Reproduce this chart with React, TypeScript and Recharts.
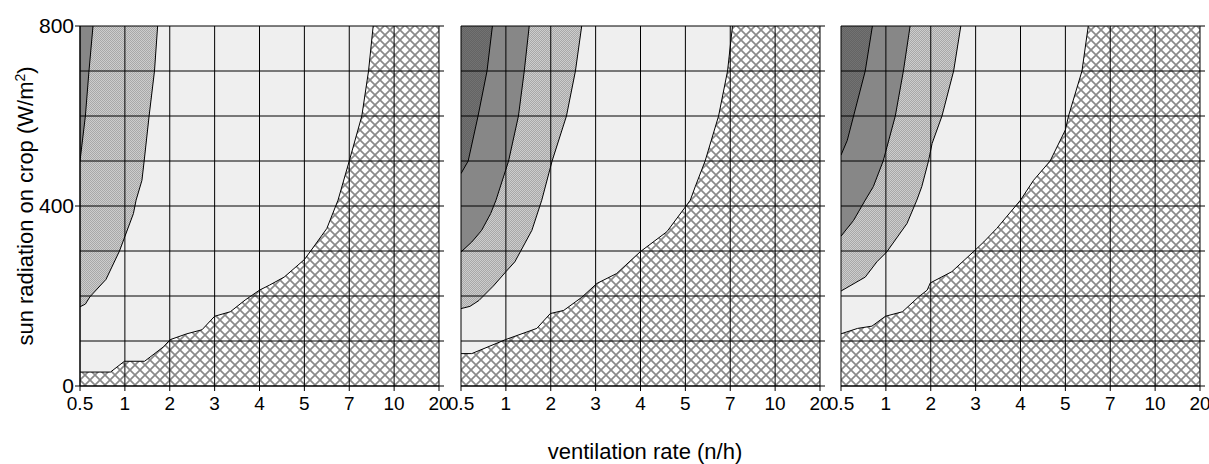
import React from 'react';
import { AreaChart, Area, XAxis, YAxis, CartesianGrid } from 'recharts';

// ventilation rate categories (n/h), evenly spaced on the axis
const rateTicks = [0.5, 1, 2, 3, 4, 5, 7, 10, 20];
const rateTickLabels = ['0.5', '1', '2', '3', '4', '5', '7', '10', '20'];
const radiationTicks = [0, 400, 800];
const radiationGrid = [0, 100, 200, 300, 400, 500, 600, 700, 800];

// Panel 1 boundaries: radiation (W/m2) vs ventilation rate (n/h)
const p1MediumRad = [500, 600, 700, 800];
const p1MediumRate = [0.5, 0.56, 0.6, 0.645];
const p1DottedRad = [176, 182, 198, 237, 300, 383, 413, 457, 500, 600, 700, 800];
const p1DottedRate = [0.5, 0.56, 0.61, 0.79, 0.94, 1.19, 1.25, 1.38, 1.43, 1.54, 1.66, 1.73];
const p1LightRad = [31, 31, 55, 55, 87, 103, 116, 125, 155, 165, 191, 213, 224, 242, 281, 300, 350, 413, 500, 600, 700, 800];
const p1LightRate = [0.5, 0.84, 0.995, 1.44, 1.86, 2.01, 2.38, 2.72, 3.0, 3.35, 3.68, 4.0, 4.22, 4.55, 5.0, 5.28, 6.0, 6.5, 7.0, 7.84, 8.29, 8.6];

// Panel 2 boundaries
const p2DarkRad = [472, 500, 600, 700, 800];
const p2DarkRate = [0.5, 0.58, 0.69, 0.79, 0.85];
const p2MediumRad = [298, 320, 346, 383, 413, 500, 600, 700, 800];
const p2MediumRate = [0.5, 0.62, 0.73, 0.83, 0.89, 1.06, 1.28, 1.41, 1.52];
const p2DottedRad = [172, 177, 190, 222, 254, 276, 298, 346, 413, 500, 600, 700, 800];
const p2DottedRate = [0.5, 0.6, 0.7, 0.86, 1.0, 1.2, 1.32, 1.58, 1.8, 2.03, 2.35, 2.55, 2.69];
const p2LightRad = [72, 72, 103, 128, 161, 168, 197, 228, 250, 298, 343, 398, 413, 443, 500, 600, 700, 800];
const p2LightRate = [0.5, 0.62, 0.995, 1.69, 1.99, 2.29, 2.69, 3.03, 3.47, 3.99, 4.59, 5.0, 5.22, 5.44, 5.88, 6.48, 6.88, 7.15];

// Panel 3 boundaries
const p3DarkRad = [513, 546, 600, 700, 800];
const p3DarkRate = [0.5, 0.57, 0.64, 0.77, 0.85];
const p3MediumRad = [333, 368, 413, 443, 500, 600, 700, 800];
const p3MediumRate = [0.5, 0.64, 0.77, 0.86, 0.97, 1.21, 1.39, 1.54];
const p3DottedRad = [211, 242, 276, 298, 361, 413, 443, 500, 539, 600, 700, 800];
const p3DottedRate = [0.5, 0.77, 0.9, 1.02, 1.47, 1.69, 1.8, 1.95, 2.03, 2.25, 2.51, 2.67];
const p3LightRad = [116, 128, 133, 155, 165, 198, 213, 229, 254, 302, 320, 350, 413, 457, 500, 569, 600, 700, 800];
const p3LightRate = [0.5, 0.685, 0.845, 0.995, 1.37, 1.73, 1.92, 1.99, 2.47, 2.99, 3.18, 3.47, 4.0, 4.29, 4.66, 5.0, 5.14, 5.74, 6.02];

// map a ventilation rate onto the evenly spaced category axis
function rateToPos(v: number): number {
  for (let i = 0; i < rateTicks.length - 1; i++) {
    const a = rateTicks[i];
    const b = rateTicks[i + 1];
    if (v <= b) return i + (v - a) / (b - a);
  }
  return rateTicks.length - 1;
}

function toData(rad: number[], rate: number[]) {
  return rad.map((r, i) => ({ rad: r, pos: rateToPos(rate[i]) }));
}

const tickPositions = rateTicks.map(rateToPos);

type Bound = { rad: number[]; rate: number[]; kind: 'light' | 'dotted' | 'medium' | 'dark' };

const panels: { left: number; showLeft: boolean; bounds: Bound[] }[] = [
  {
    left: 80,
    showLeft: true,
    bounds: [
      { rad: p1LightRad, rate: p1LightRate, kind: 'light' },
      { rad: p1DottedRad, rate: p1DottedRate, kind: 'dotted' },
      { rad: p1MediumRad, rate: p1MediumRate, kind: 'medium' },
    ],
  },
  {
    left: 461,
    showLeft: false,
    bounds: [
      { rad: p2LightRad, rate: p2LightRate, kind: 'light' },
      { rad: p2DottedRad, rate: p2DottedRate, kind: 'dotted' },
      { rad: p2MediumRad, rate: p2MediumRate, kind: 'medium' },
      { rad: p2DarkRad, rate: p2DarkRate, kind: 'dark' },
    ],
  },
  {
    left: 841,
    showLeft: false,
    bounds: [
      { rad: p3LightRad, rate: p3LightRate, kind: 'light' },
      { rad: p3DottedRad, rate: p3DottedRate, kind: 'dotted' },
      { rad: p3MediumRad, rate: p3MediumRate, kind: 'medium' },
      { rad: p3DarkRad, rate: p3DarkRate, kind: 'dark' },
    ],
  },
];

const PLOT_W = 359;

function Panel({ left, showLeft, bounds, id }: { left: number; showLeft: boolean; bounds: Bound[]; id: number }) {
  const padL = showLeft ? 80 : 30;
  const width = padL + PLOT_W + 6 + 14;
  const fills: Record<string, string> = {
    light: '#efefef',
    dotted: `url(#dots${id})`,
    medium: '#878787',
    dark: `url(#dark${id})`,
  };
  return (
    <div style={{ position: 'absolute', left: left - padL, top: 0 }}>
      <AreaChart
        layout="vertical"
        width={width}
        height={420}
        margin={{ top: 26, right: 14, bottom: 0, left: showLeft ? 0 : 30 }}
      >
        <defs>
          <pattern id={`xh${id}`} patternUnits="userSpaceOnUse" width={10} height={10}>
            <rect x={0} y={0} width={10} height={10} fill="#ffffff" />
            <path d="M-1,-1 L11,11 M11,-1 L-1,11" stroke="#8a8a8a" strokeWidth={1.7} />
          </pattern>
          <pattern id={`dots${id}`} patternUnits="userSpaceOnUse" width={2} height={2}>
            <rect x={0} y={0} width={2} height={2} fill="#cdcdcd" />
            <rect x={0} y={0} width={1} height={1} fill="#a8a8a8" />
            <rect x={1} y={1} width={1} height={1} fill="#a8a8a8" />
          </pattern>
          <pattern id={`dark${id}`} patternUnits="userSpaceOnUse" width={2} height={2}>
            <rect x={0} y={0} width={2} height={2} fill="#727272" />
            <rect x={0} y={0} width={1} height={1} fill="#646464" />
            <rect x={1} y={1} width={1} height={1} fill="#646464" />
          </pattern>
        </defs>
        <CartesianGrid horizontal={false} vertical={false} fill={`url(#xh${id})`} fillOpacity={1} />
        <XAxis
          type="number"
          dataKey="pos"
          domain={[0, 8]}
          ticks={tickPositions}
          interval={0}
          tickFormatter={(v: number) => rateTickLabels[Math.round(v)]}
          tickSize={5}
          tickMargin={6}
          height={34}
          axisLine={{ stroke: '#000' }}
          tickLine={{ stroke: '#000' }}
          tick={{ fontSize: 19, fill: '#000' }}
          allowDataOverflow
        />
        <YAxis
          yAxisId={0}
          type="number"
          dataKey="rad"
          domain={[0, 800]}
          reversed
          ticks={radiationTicks}
          interval={0}
          width={80}
          hide={!showLeft}
          tickSize={5}
          tickMargin={1}
          axisLine={{ stroke: '#000' }}
          tickLine={{ stroke: '#000' }}
          tick={{ fontSize: 21, fill: '#000' }}
          allowDataOverflow
        />
        <YAxis
          yAxisId="r"
          orientation="right"
          type="number"
          dataKey="rad"
          domain={[0, 800]}
          reversed
          ticks={radiationGrid}
          interval={0}
          width={6}
          tickSize={5}
          tickMargin={0}
          tickFormatter={() => ''}
          axisLine={false}
          tickLine={{ stroke: '#000' }}
          allowDataOverflow
        />
        {bounds.map((b, i) => (
          <Area
            key={i}
            data={toData(b.rad, b.rate)}
            dataKey="pos"
            type="linear"
            stroke="#000"
            strokeWidth={1}
            fill={fills[b.kind]}
            fillOpacity={1}
            dot={false}
            activeDot={false}
            isAnimationActive={false}
          />
        ))}
        <CartesianGrid yAxisId="r" stroke="#000" strokeWidth={1} fill="none" zIndex={300} />
      </AreaChart>
    </div>
  );
}

export default function App() {
  return (
    <div
      style={{
        position: 'absolute',
        left: 0,
        top: 0,
        width: 1209,
        height: 464,
        background: '#fff',
        fontFamily: '"Liberation Sans", Arial, sans-serif',
        overflow: 'hidden',
      }}
    >
      {panels.map((p, i) => (
        <Panel key={i} id={i} left={p.left} showLeft={p.showLeft} bounds={p.bounds} />
      ))}
      <svg width={1209} height={464} style={{ position: 'absolute', left: 0, top: 0, pointerEvents: 'none' }}>
        <text transform="translate(33,206) rotate(-90)" textAnchor="middle" fontSize={22} fill="#000">
          sun radiation on crop (W/m
          <tspan dy={-8} fontSize={14}>2</tspan>
          <tspan dy={8}>)</tspan>
        </text>
        <text x={645} y={459} textAnchor="middle" fontSize={22} fill="#000">
          ventilation rate (n/h)
        </text>
      </svg>
    </div>
  );
}
